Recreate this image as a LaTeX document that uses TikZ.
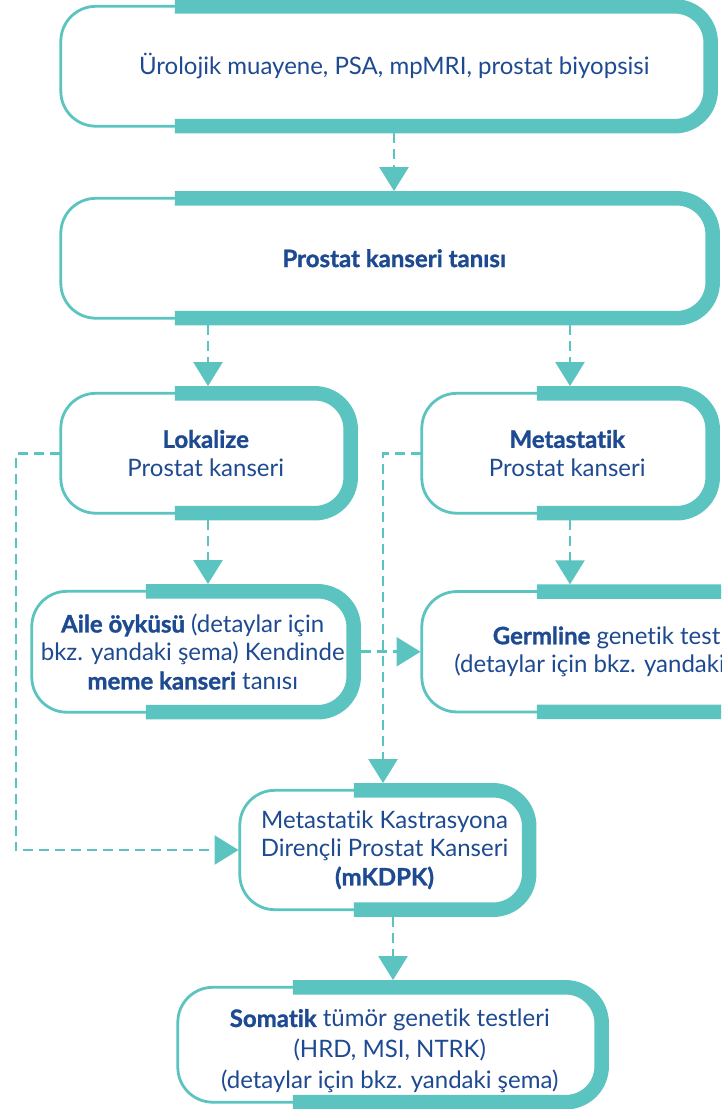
\documentclass[tikz,border=0pt]{standalone}
\usepackage{fontspec}
\setmainfont{Lato}[Ligatures={NoCommon,NoContextual},BoldFeatures={FakeBold=1.2}]
\usetikzlibrary{arrows.meta,calc}
\definecolor{tealA}{RGB}{91,196,192}
\definecolor{navyA}{RGB}{30,74,146}
\newcommand\myflowframe[2]{%
  \draw[thinline] (#1.north west) rectangle (#1.south east);
  \draw[thickband] ([xshift=#2]#1.north west) -- (#1.north east) -- (#1.south east) -- ([xshift=#2]#1.south west);}
\begin{document}
\begin{tikzpicture}[x=1pt,y=-1pt,
  frame/.style={rectangle, draw=none, inner sep=0pt, align=center, text=navyA,
    font=\fontsize{24}{28.5}\selectfont},
  thinline/.style={draw=tealA, line width=2.8pt, rounded corners=35pt},
  thickband/.style={draw=tealA, line width=14.5pt, rounded corners=36pt, line cap=butt},
  conn/.style={draw=tealA, line width=2.6pt, dash pattern=on 10pt off 6pt,
    -{Triangle[length=24pt,width=29pt]}, fill=none}]
\useasboundingbox (0,0) rectangle (721,1109);
\clip (0,0) rectangle (721,1109);
\fill[white] (0,0) rectangle (721,1109);

\node[frame, minimum width=649.5pt, minimum height=119.5pt] (b1) at (385.75,66.25)
  {\hspace*{17pt}Ürolojik muayene, PSA, mpMRI, prostat biyopsisi};
\node[frame, minimum width=651.5pt, minimum height=119.5pt] (b2) at (386.75,258.25)
  {\hspace*{15pt}\textbf{Prostat kanseri tanısı}};
\node[frame, minimum width=289.5pt, minimum height=119.5pt] (b3) at (205.75,453.25)
  {\textbf{Lokalize}\\Prostat kanseri};
\node[frame, minimum width=290.5pt, minimum height=119.5pt] (b4) at (567.25,453.25)
  {\textbf{Metastatik}\\Prostat kanseri};
\node[frame, minimum width=321.5pt, minimum height=120.5pt] (b5) at (192.75,651.75)
  {\textbf{Aile öyküsü} (detaylar için\\bkz. yandaki şema) Kendinde\\\textbf{meme kanseri} tanısı};
\node[frame, minimum width=402pt, minimum height=120pt] (b6) at (623,651.75)
  {\textbf{Germline} genetik testleri\\(detaylar için bkz. yandaki şema)};
\node[frame, minimum width=289pt, minimum height=119pt] (b7) at (384.5,850)
  {Metastatik Kastrasyona\\Dirençli Prostat Kanseri\\\textbf{(mKDPK)}};
\node[frame, minimum width=423.5pt, minimum height=114.5pt, font=\fontsize{24}{31}\selectfont] (b8) at (389.75,1044.75)
  {\raisebox{-7pt}[\height][\depth]{\begin{tabular}{@{}c@{}}\textbf{Somatik} tümör genetik testleri\\(HRD, MSI, NTRK)\\(detaylar için bkz. yandaki şema)\end{tabular}}};

\myflowframe{b1}{114pt}
\myflowframe{b2}{114pt}
\myflowframe{b3}{114pt}
\myflowframe{b4}{115pt}
\myflowframe{b5}{114pt}
\myflowframe{b6}{115pt}
\myflowframe{b7}{114pt}
\myflowframe{b8}{115pt}

\draw[conn, shorten <=7.25pt, shorten >=7.25pt] ([xshift=8.25pt]b1.south) -- ([xshift=7.25pt]b2.north);
\draw[conn, shorten <=7.25pt, shorten >=7.25pt] ([xshift=-178.75pt]b2.south) -- ([xshift=2.25pt]b3.north);
\draw[conn, shorten <=7.25pt, shorten >=7.25pt] ([xshift=183.25pt]b2.south) -- ([xshift=2.75pt]b4.north);
\draw[conn, shorten <=7.25pt, shorten >=7.25pt] ([xshift=2.25pt]b3.south) -- ([xshift=15.25pt]b5.north);
\draw[conn, shorten <=7.25pt, shorten >=7.25pt] ([xshift=2.75pt]b4.south) -- ([xshift=-53pt]b6.north);
\draw[conn, shorten <=7.25pt, shorten >=1.3pt] (b5.east) -- (b6.west);
\draw[conn, shorten <=1.3pt, shorten >=7.25pt] (b4.west) -| ([xshift=-1.5pt]b7.north);
\draw[conn, shorten <=1.3pt, shorten >=1.3pt] (b3.west) -- ++(-45,0) |- (b7.west);
\draw[conn, shorten <=7.25pt, shorten >=7.25pt] ([xshift=8.5pt]b7.south) -- ([xshift=3.25pt]b8.north);
\end{tikzpicture}
\end{document}
